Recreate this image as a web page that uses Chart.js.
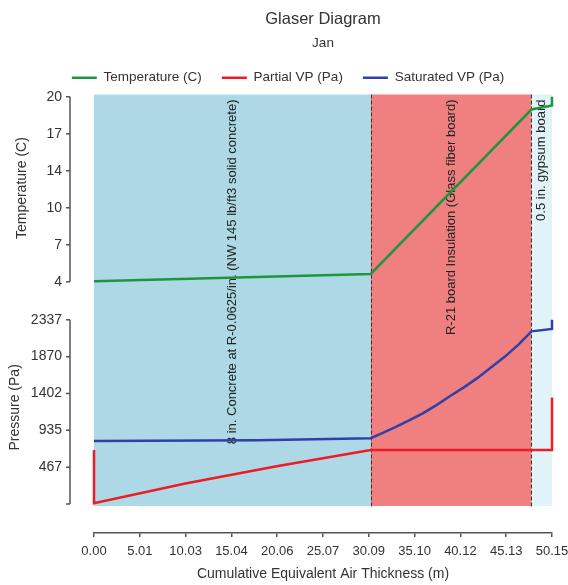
<!DOCTYPE html>
<html>
<head>
<meta charset="utf-8">
<script src="https://cdn.jsdelivr.net/npm/chart.js@4.4.0/dist/chart.umd.min.js"></script>
<style>
  html, body { margin: 0; padding: 0; background: #fff; }
</style>
</head>
<body>
<canvas id="glaser" width="568" height="585"></canvas>
<script>
// wall layers, edges on the x axis (m)
const layerEdges = [0, 30.3, 47.9, 50.15];
const layerNames = [
  '8 in. Concrete at R-0.0625/in. (NW 145 lb/ft3 solid concrete)',
  'R-21 board Insulation (Glass fiber board)',
  '0.5 in. gypsum board'
];
const layerColors = ['#add8e6', '#f08080', '#e0f3f8'];

// temperature (C)
const tempX = [0, 30.3, 47.9, 50.15, 50.15];
const tempY = [4.03, 4.67, 18.9, 19.25, 20];

// partial vapour pressure (Pa)
const partialX = [0, 0, 10, 20, 30.3, 50.15, 50.15];
const partialY = [686, 10, 260, 480, 686, 686, 1350];

// saturated vapour pressure (Pa)
const satX = [0, 18, 30.3, 31.5, 33, 34.5, 36, 37.5, 39, 40.5, 42, 43.5, 45, 46.5, 47.9, 50.15, 50.15];
const satY = [800, 810, 835, 895, 975, 1060, 1150, 1255, 1370, 1480, 1600, 1735, 1870, 2025, 2190, 2220, 2337];

// ticks
const xTicks = [0, 5.015, 10.03, 15.045, 20.06, 25.075, 30.09, 35.105, 40.12, 45.135, 50.15];
const xTickLabels = ['0.00', '5.01', '10.03', '15.04', '20.06', '25.07', '30.09', '35.10', '40.12', '45.13', '50.15'];
const tempTicks = [4, 7.2, 10.4, 13.6, 16.8, 20];
const tempTickLabels = ['4', '7', '10', '14', '17', '20'];
const presTicks = [0, 467.4, 934.8, 1402.2, 1869.6, 2337];
const presTickLabels = ['', '467', '935', '1402', '1870', '2337'];

const green = '#1f963c';
const red = '#ed1c24';
const blue = '#3040a8';

Chart.defaults.font.family = '"Liberation Sans", Arial, sans-serif';
Chart.defaults.color = '#333';

const pts = (xs, ys) => xs.map((x, i) => ({ x: x, y: ys[i] }));

// coloured layer bands, dashed boundaries, layer names, y axis brackets
const layerPlugin = {
  id: 'layers',
  beforeDatasetsDraw(chart) {
    const { ctx, chartArea } = chart;
    const x = chart.scales.x;
    const yP = chart.scales.yP;
    const top = chartArea.top;
    const bottom = yP.getPixelForValue(0) + 2;
    ctx.save();
    for (let i = 0; i < layerNames.length; i++) {
      const x0 = x.getPixelForValue(layerEdges[i]);
      const x1 = x.getPixelForValue(layerEdges[i + 1]);
      ctx.fillStyle = layerColors[i];
      ctx.fillRect(x0, top, x1 - x0, bottom - top);
    }
    ctx.strokeStyle = '#333';
    ctx.lineWidth = 1;
    ctx.setLineDash([4, 2]);
    for (let i = 1; i < layerEdges.length - 1; i++) {
      const px = Math.round(x.getPixelForValue(layerEdges[i])) + 0.5;
      ctx.beginPath();
      ctx.moveTo(px, top);
      ctx.lineTo(px, bottom + 2);
      ctx.stroke();
    }
    ctx.setLineDash([]);
    ctx.fillStyle = '#222';
    ctx.font = '13px "Liberation Sans", Arial, sans-serif';
    ctx.textAlign = 'right';
    ctx.textBaseline = 'middle';
    for (let i = 0; i < layerNames.length; i++) {
      const cx = (x.getPixelForValue(layerEdges[i]) + x.getPixelForValue(layerEdges[i + 1])) / 2;
      ctx.save();
      ctx.translate(cx, top + 5);
      ctx.rotate(-Math.PI / 2);
      ctx.fillText(layerNames[i], 0, 0);
      ctx.restore();
    }
    ctx.restore();
  },
  afterDraw(chart) {
    const { ctx, chartArea } = chart;
    const ax = chartArea.left - 24;
    ctx.save();
    ctx.strokeStyle = '#555';
    ctx.lineWidth = 1.5;
    [['yT', tempTicks], ['yP', presTicks]].forEach(([id, ticks]) => {
      const s = chart.scales[id];
      ctx.beginPath();
      ctx.moveTo(ax, s.getPixelForValue(ticks[ticks.length - 1]));
      ctx.lineTo(ax, s.getPixelForValue(ticks[0]));
      ticks.forEach(v => {
        const py = s.getPixelForValue(v);
        ctx.moveTo(ax - 4, py);
        ctx.lineTo(ax, py);
      });
      ctx.stroke();
    });
    ctx.restore();
  }
};

new Chart(document.getElementById('glaser'), {
  type: 'line',
  data: {
    datasets: [
      {
        label: 'Temperature (C)',
        data: pts(tempX, tempY),
        yAxisID: 'yT',
        borderColor: green,
        backgroundColor: green,
        borderWidth: 2.5,
        pointRadius: 0,
        clip: 4
      },
      {
        label: 'Partial VP (Pa)',
        data: pts(partialX, partialY),
        yAxisID: 'yP',
        borderColor: red,
        backgroundColor: red,
        borderWidth: 2.5,
        pointRadius: 0,
        clip: 4
      },
      {
        label: 'Saturated VP (Pa)',
        data: pts(satX, satY),
        yAxisID: 'yP',
        borderColor: blue,
        backgroundColor: blue,
        borderWidth: 2.5,
        pointRadius: 0,
        clip: 4
      }
    ]
  },
  options: {
    responsive: false,
    animation: false,
    events: [],
    layout: { padding: { left: 24, right: 16, top: 0, bottom: 0 } },
    plugins: {
      title: {
        display: true,
        fullSize: false,
        text: 'Glaser Diagram',
        color: '#333',
        font: { size: 16.5, weight: 'normal' },
        padding: { top: 10, bottom: 5 }
      },
      subtitle: {
        display: true,
        fullSize: false,
        text: 'Jan',
        color: '#333',
        font: { size: 13.5 },
        padding: { top: 0, bottom: 0 }
      },
      legend: {
        labels: {
          usePointStyle: true,
          pointStyle: 'line',
          pointStyleWidth: 25,
          padding: 20,
          color: '#333',
          font: { size: 13.5 }
        }
      },
      tooltip: { enabled: false }
    },
    scales: {
      x: {
        type: 'linear',
        min: 0,
        max: 50.15,
        afterBuildTicks: s => { s.ticks = xTicks.map(v => ({ value: v })); },
        afterFit: s => { s.height = 52; s.paddingLeft = 0; s.paddingRight = 0; },
        ticks: {
          callback: (v, i) => xTickLabels[i],
          autoSkip: false,
          maxRotation: 0,
          padding: 7,
          color: '#333',
          font: { size: 13 }
        },
        grid: { drawOnChartArea: false, drawTicks: true, tickLength: 4, color: '#555', lineWidth: 1.5 },
        border: { display: true, color: '#555', width: 1.5 },
        title: {
          display: true,
          text: 'Cumulative Equivalent Air Thickness (m)',
          color: '#333',
          font: { size: 14 },
          padding: { top: 0, bottom: 2 }
        }
      },
      yP: {
        type: 'linear',
        position: 'left',
        stack: 'panels',
        stackWeight: 251,
        min: -368,
        max: 2820,
        afterBuildTicks: s => { s.ticks = presTicks.map(v => ({ value: v })); },
        afterFit: s => { s.width = 70; },
        ticks: { callback: (v, i) => presTickLabels[i], autoSkip: false, padding: 32, color: '#333', font: { size: 14 } },
        grid: { display: false, drawTicks: false },
        border: { display: false },
        title: { display: true, text: 'Pressure (Pa)', color: '#333', font: { size: 14 }, padding: { top: -17, bottom: 0 } }
      },
      yT: {
        type: 'linear',
        position: 'left',
        stack: 'panels',
        stackWeight: 187,
        min: 4,
        max: 20.2,
        afterBuildTicks: s => { s.ticks = tempTicks.map(v => ({ value: v })); },
        afterFit: s => { s.width = 70; },
        ticks: { callback: (v, i) => tempTickLabels[i], autoSkip: false, padding: 32, color: '#333', font: { size: 14 } },
        grid: { display: false, drawTicks: false },
        border: { display: false },
        title: { display: true, text: 'Temperature (C)', color: '#333', font: { size: 14 }, padding: { top: -10, bottom: 0 } }
      }
    }
  },
  plugins: [layerPlugin]
});
</script>
</body>
</html>
